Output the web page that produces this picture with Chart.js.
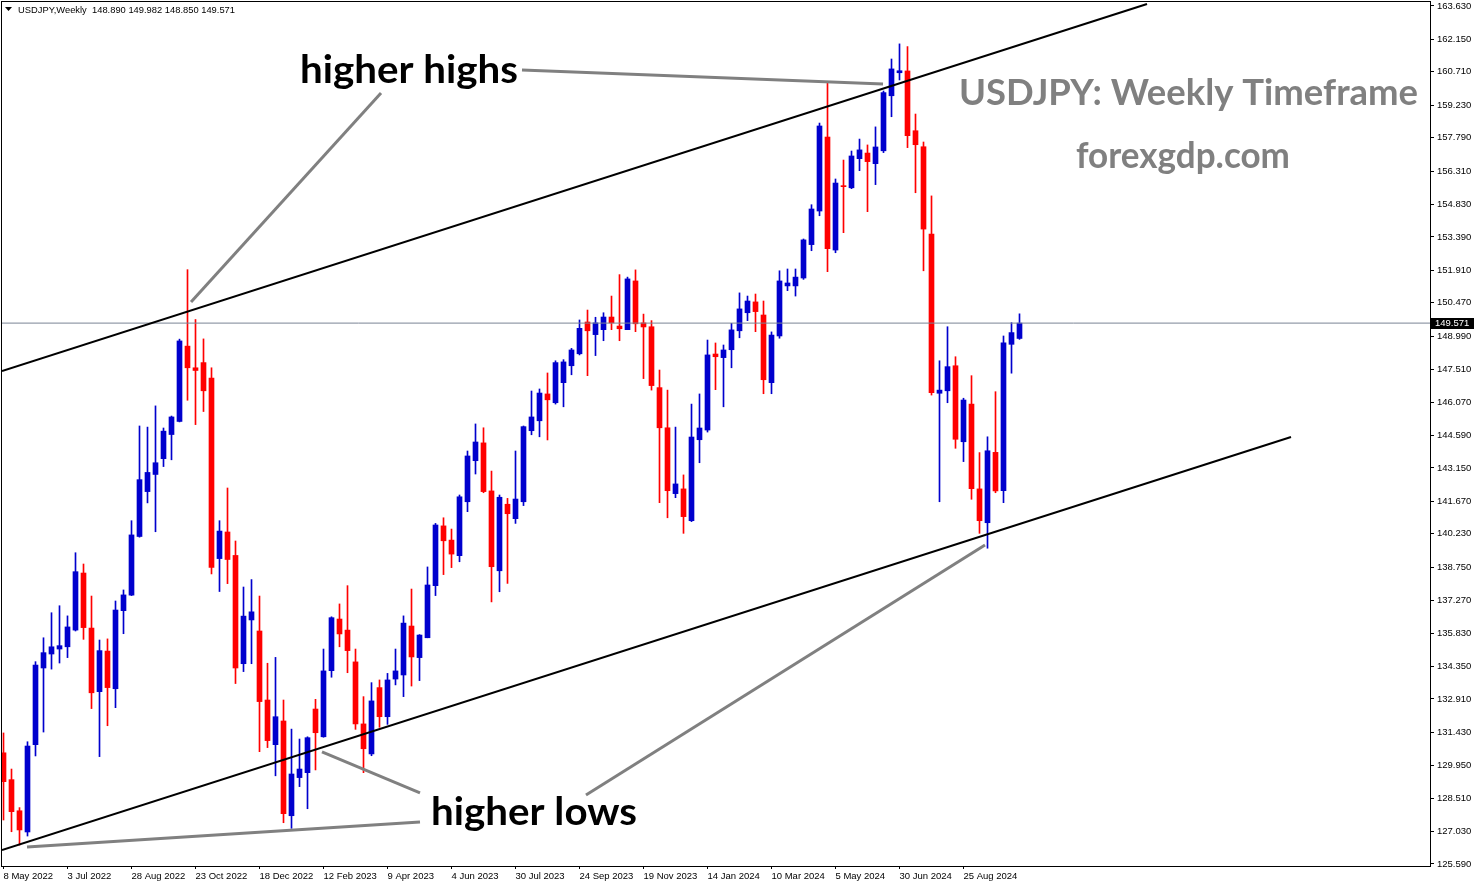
<!DOCTYPE html>
<html><head><meta charset="utf-8">
<script src="https://cdn.jsdelivr.net/npm/chart.js@4.4.1/dist/chart.umd.min.js"></script>
<style>html,body{margin:0;padding:0;background:#fff;overflow:hidden}#wrap{width:1477px;height:888px;position:relative}</style>
</head><body><div id="wrap"><canvas id="c"></canvas></div>
<script>
// ---- data (weekly USDJPY, week index 0 = 8 May 2022) ----
const open = [130.52,129.33,127.95,127.01,130.88,134.28,134.90,135.12,135.22,135.96,
138.49,136.05,133.23,135.03,133.36,136.82,137.51,140.11,142.10,142.86,
143.56,144.63,145.21,148.55,147.59,147.82,147.13,139.13,140.31,139.27,
134.47,136.41,135.92,132.86,130.88,131.93,127.73,129.42,129.64,132.46,
131.23,134.16,136.45,135.96,134.55,131.80,130.47,133.41,132.12,133.79,
133.97,136.14,134.74,135.62,137.93,140.58,139.95,139.26,141.65,143.47,
144.26,142.13,138.59,141.54,140.90,141.65,144.80,145.24,146.43,146.04,
146.93,147.68,148.21,149.62,149.06,149.28,149.84,149.44,149.28,151.44,
149.58,149.41,146.71,144.93,142.01,142.22,140.81,144.40,144.83,148.20,
148.04,148.39,149.23,150.03,150.51,149.93,146.93,149.00,151.22,151.22,
151.57,153.05,154.54,157.82,152.81,155.66,155.57,156.86,157.11,156.64,
157.21,159.65,160.67,160.75,158.10,157.39,153.52,146.46,146.57,147.68,
144.31,145.98,142.22,140.72,143.84,142.14,148.63,148.89];
const high = [131.40,129.80,128.09,131.01,134.56,135.62,136.73,137.04,136.59,139.39,
138.89,137.47,135.52,135.57,137.25,137.74,140.81,145.01,144.96,145.90,
144.92,145.45,148.86,151.94,149.73,148.87,147.59,140.81,142.26,139.91,
137.87,138.20,137.47,134.49,134.75,132.86,131.57,131.13,131.23,132.89,
135.12,136.55,137.12,137.93,135.12,133.01,133.63,133.75,134.04,135.12,
136.59,137.78,135.76,138.76,140.69,140.94,140.44,141.95,143.90,145.10,
144.93,143.01,141.95,141.80,143.90,145.01,146.56,146.65,147.36,147.90,
147.95,148.45,149.71,150.15,149.83,150.03,150.77,151.72,151.61,151.93,
149.97,149.68,147.49,146.60,144.96,142.84,145.98,146.43,148.82,148.69,
148.60,149.56,150.91,150.77,150.86,150.55,149.18,151.89,151.97,151.97,
153.30,154.82,158.44,160.20,155.96,156.80,157.20,157.73,157.47,158.27,
159.86,161.28,161.95,161.83,158.84,157.60,155.21,147.90,149.41,148.08,
146.24,147.24,143.83,144.53,146.53,149.00,149.59,149.982];
const low = [127.54,127.02,126.43,126.83,130.38,131.44,134.23,134.50,134.74,135.92,
135.55,132.48,130.35,131.72,132.52,135.80,137.49,140.08,141.60,140.32,
143.21,143.51,145.19,146.15,145.07,145.65,138.45,137.67,138.02,133.59,
134.12,134.47,130.57,130.75,129.50,127.42,127.17,129.02,128.04,129.76,
131.21,133.87,135.22,134.07,131.56,129.64,130.39,131.65,131.78,133.53,
133.01,133.48,133.72,135.62,137.49,138.42,138.73,138.99,141.21,142.88,
142.05,137.21,137.66,138.03,140.69,141.48,144.62,144.53,144.39,145.98,
145.86,147.28,148.16,147.24,148.13,148.79,149.28,148.79,149.28,149.19,
147.11,146.60,141.61,140.94,141.83,140.25,140.77,143.38,144.74,146.62,
145.86,147.59,148.92,149.68,149.19,146.44,146.44,148.90,151.01,150.77,
151.51,152.78,154.33,151.85,152.69,153.58,155.53,156.33,154.51,155.71,
157.13,158.72,160.35,157.35,155.35,151.89,146.38,141.65,146.04,144.02,
143.43,141.76,140.25,139.59,142.05,141.61,147.35,148.85];
const close = [129.24,127.91,127.10,130.82,134.41,134.96,135.22,135.27,136.10,138.55,
136.07,133.18,135.05,133.41,136.85,137.52,140.18,142.63,142.95,143.38,
144.78,145.41,148.78,147.59,147.47,146.57,138.74,140.35,139.09,134.28,
136.58,136.77,132.79,131.06,132.12,127.82,129.58,129.80,131.19,131.41,
134.15,136.51,135.79,135.05,131.80,130.70,132.82,132.12,133.75,134.15,
136.27,134.77,135.74,137.96,140.62,139.92,139.33,141.87,143.68,144.30,
142.10,138.77,141.85,141.12,141.77,144.98,145.41,146.47,146.17,147.82,
147.85,148.38,149.34,149.23,149.58,149.84,149.58,149.32,151.53,149.54,
149.40,146.80,144.93,142.14,142.44,140.99,144.52,144.92,148.16,148.08,
148.38,149.27,150.20,150.55,150.08,147.06,149.04,151.44,151.35,151.61,
153.26,154.63,158.31,152.87,155.78,155.62,156.98,157.25,156.73,157.38,
159.79,160.84,160.76,157.88,157.48,153.74,146.49,146.60,147.64,144.42,
146.16,142.23,140.81,143.91,142.13,148.70,149.15,149.571];

const xTickLabels = ['8 May 2022','3 Jul 2022','28 Aug 2022','23 Oct 2022','18 Dec 2022','12 Feb 2023','9 Apr 2023','4 Jun 2023','30 Jul 2023','24 Sep 2023','19 Nov 2023','14 Jan 2024','10 Mar 2024','5 May 2024','30 Jun 2024','25 Aug 2024'];
const xTickWeeks = [0,8,16,24,32,40,48,56,64,72,80,88,96,104,112,120];
const yTickValues = [163.630,162.150,160.710,159.230,157.790,156.310,154.830,153.390,151.910,150.470,148.990,147.510,146.070,144.590,143.150,141.670,140.230,138.750,137.270,135.830,134.350,132.910,131.430,129.950,128.510,127.030,125.590];

// channel lines and pointer lines (week index, price)
const upperChannel = [{x:-0.19,y:147.45},{x:142.94,y:163.72}];
const lowerChannel = [{x:-0.19,y:126.21},{x:160.94,y:144.52}];
const pointerLines = [
  [{x:23.44,y:150.51},{x:47.19,y:159.77}],
  [{x:64.81,y:160.79},{x:109.94,y:160.17}],
  [{x:39.81,y:130.56},{x:52.06,y:128.74}],
  [{x:2.94,y:126.34},{x:52.06,y:127.45}],
  [{x:72.81,y:128.65},{x:122.69,y:139.73}]
];
const labelsText = [
  {text:'higher highs', x:37.06, y:160.23, size:39, width:218, color:'#000000'},
  {text:'higher lows', x:53.44, y:127.32, size:39, width:206, color:'#000000'},
  {text:'USDJPY: Weekly Timeframe', x:119.44, y:159.24, size:37, width:459, color:'#808080'},
  {text:'forexgdp.com', x:134.06, y:156.45, size:37, width:214, color:'#808080'}
];
const headerText = 'USDJPY,Weekly  148.890 149.982 148.850 149.571';

// ---- rendering ----
const BLUE = '#0000cd', RED = '#ff0000';
const colors = open.map((o,i)=> close[i] >= o ? BLUE : RED);
const wickData = open.map((o,i)=>({x:i, y:[low[i], high[i]]}));
const bodyData = open.map((o,i)=>({x:i, y:[Math.min(o,close[i]), Math.max(o,close[i])]}));
const last = close[close.length-1];

const X_MIN = -0.1875, X_MAX = X_MIN + 1428/8;
const Y_MIN = 125.501, Y_MAX = 163.807;

const lineDs = (data, color, w, order) => ({type:'line', data, borderColor:color, borderWidth:w, pointRadius:0, fill:false, clip:0, order, tension:0});

const datasets = [
  {type:'bar', data:wickData, backgroundColor:colors, barThickness:1, grouped:false, borderWidth:0, minBarLength:1, order:5},
  {type:'bar', data:bodyData, backgroundColor:colors, barThickness:5, grouped:false, borderWidth:0, minBarLength:1, order:4},
  lineDs([{x:X_MIN-1,y:last},{x:X_MAX+1,y:last}], '#7a8394', 1, 3),
  lineDs(upperChannel, '#000000', 2, 1),
  lineDs(lowerChannel, '#000000', 2, 1),
  ...pointerLines.map(p => lineDs(p, '#808080', 3, 2))
];

const overlay = {
  id:'overlay',
  afterDraw(chart){
    const {ctx, chartArea:a, scales:{x, y}} = chart;
    ctx.save();
    // frame
    ctx.strokeStyle = '#000'; ctx.lineWidth = 1;
    ctx.strokeRect(Math.floor(a.left)-0.5, Math.floor(a.top)-0.5, Math.round(a.right-a.left)+1, Math.round(a.bottom-a.top)+1);
    // annotations text
    ctx.beginPath(); ctx.rect(a.left, a.top, a.right-a.left, a.bottom-a.top); ctx.clip();
    ctx.textBaseline = 'alphabetic'; ctx.textAlign = 'left';
    labelsText.forEach(t => {
      ctx.font = 'bold ' + t.size + 'px Lato, "Open Sans", sans-serif';
      const w = ctx.measureText(t.text).width;
      ctx.save();
      ctx.translate(x.getPixelForValue(t.x), y.getPixelForValue(t.y));
      ctx.scale(t.width / w, 1);
      ctx.fillStyle = t.color;
      ctx.fillText(t.text, 0, 0);
      ctx.restore();
    });
    // header
    ctx.fillStyle = '#000';
    ctx.beginPath(); ctx.moveTo(a.left+3, a.top+5); ctx.lineTo(a.left+10, a.top+5); ctx.lineTo(a.left+6.5, a.top+9); ctx.closePath(); ctx.fill();
    ctx.font = '9.5px "Liberation Sans", Arial, sans-serif';
    ctx.textBaseline = 'middle';
    const hw = ctx.measureText(headerText).width;
    ctx.save(); ctx.translate(a.left+16, a.top+8); ctx.scale(217/hw,1); ctx.fillText(headerText, 0, 0); ctx.restore();
    ctx.restore();
    // price label box
    const py = Math.round(y.getPixelForValue(last));
    ctx.save();
    ctx.fillStyle = '#000';
    ctx.fillRect(a.right+1, py-5, 43, 11);
    ctx.fillStyle = '#fff';
    ctx.font = '9.5px "Liberation Sans", Arial, sans-serif';
    ctx.textBaseline = 'middle'; ctx.textAlign = 'left';
    ctx.fillText(last.toFixed(3), a.right+5, py+0.5);
    ctx.restore();
  }
};

new Chart(document.getElementById('c'), {
  type:'bar',
  data:{datasets},
  options:{
    responsive:true, maintainAspectRatio:false, animation:false,
    layout:{padding:{left:2, top:2, right:0, bottom:0}},
    plugins:{legend:{display:false}, tooltip:{enabled:false}},
    scales:{
      x:{type:'linear', min:X_MIN, max:X_MAX, offset:false,
        grid:{drawOnChartArea:false, drawTicks:true, tickLength:3, color:'#000', offset:false},
        border:{display:false},
        ticks:{autoSkip:false, maxRotation:0, minRotation:0, align:'start', padding:2, color:'#000',
          font:{family:'"Liberation Sans", Arial, sans-serif', size:9.5},
          callback:(v,i)=> xTickLabels[i]},
        afterBuildTicks:s=>{ s.ticks = xTickWeeks.map(v=>({value:v})); },
        afterFit:s=>{ s.height = 22; s.paddingLeft = 0; s.paddingRight = 0; }
      },
      y:{type:'linear', position:'right', min:Y_MIN, max:Y_MAX,
        grid:{drawOnChartArea:false, drawTicks:true, tickLength:4, color:'#000'},
        border:{display:false},
        ticks:{autoSkip:false, padding:3, color:'#000',
          font:{family:'"Liberation Sans", Arial, sans-serif', size:9.5},
          callback:v=> Number(v).toFixed(3)},
        afterBuildTicks:s=>{ s.ticks = yTickValues.map(v=>({value:v})); },
        afterFit:s=>{ s.width = 47; s.paddingTop = 0; s.paddingBottom = 0; }
      }
    }
  },
  plugins:[overlay]
});
</script></body></html>
